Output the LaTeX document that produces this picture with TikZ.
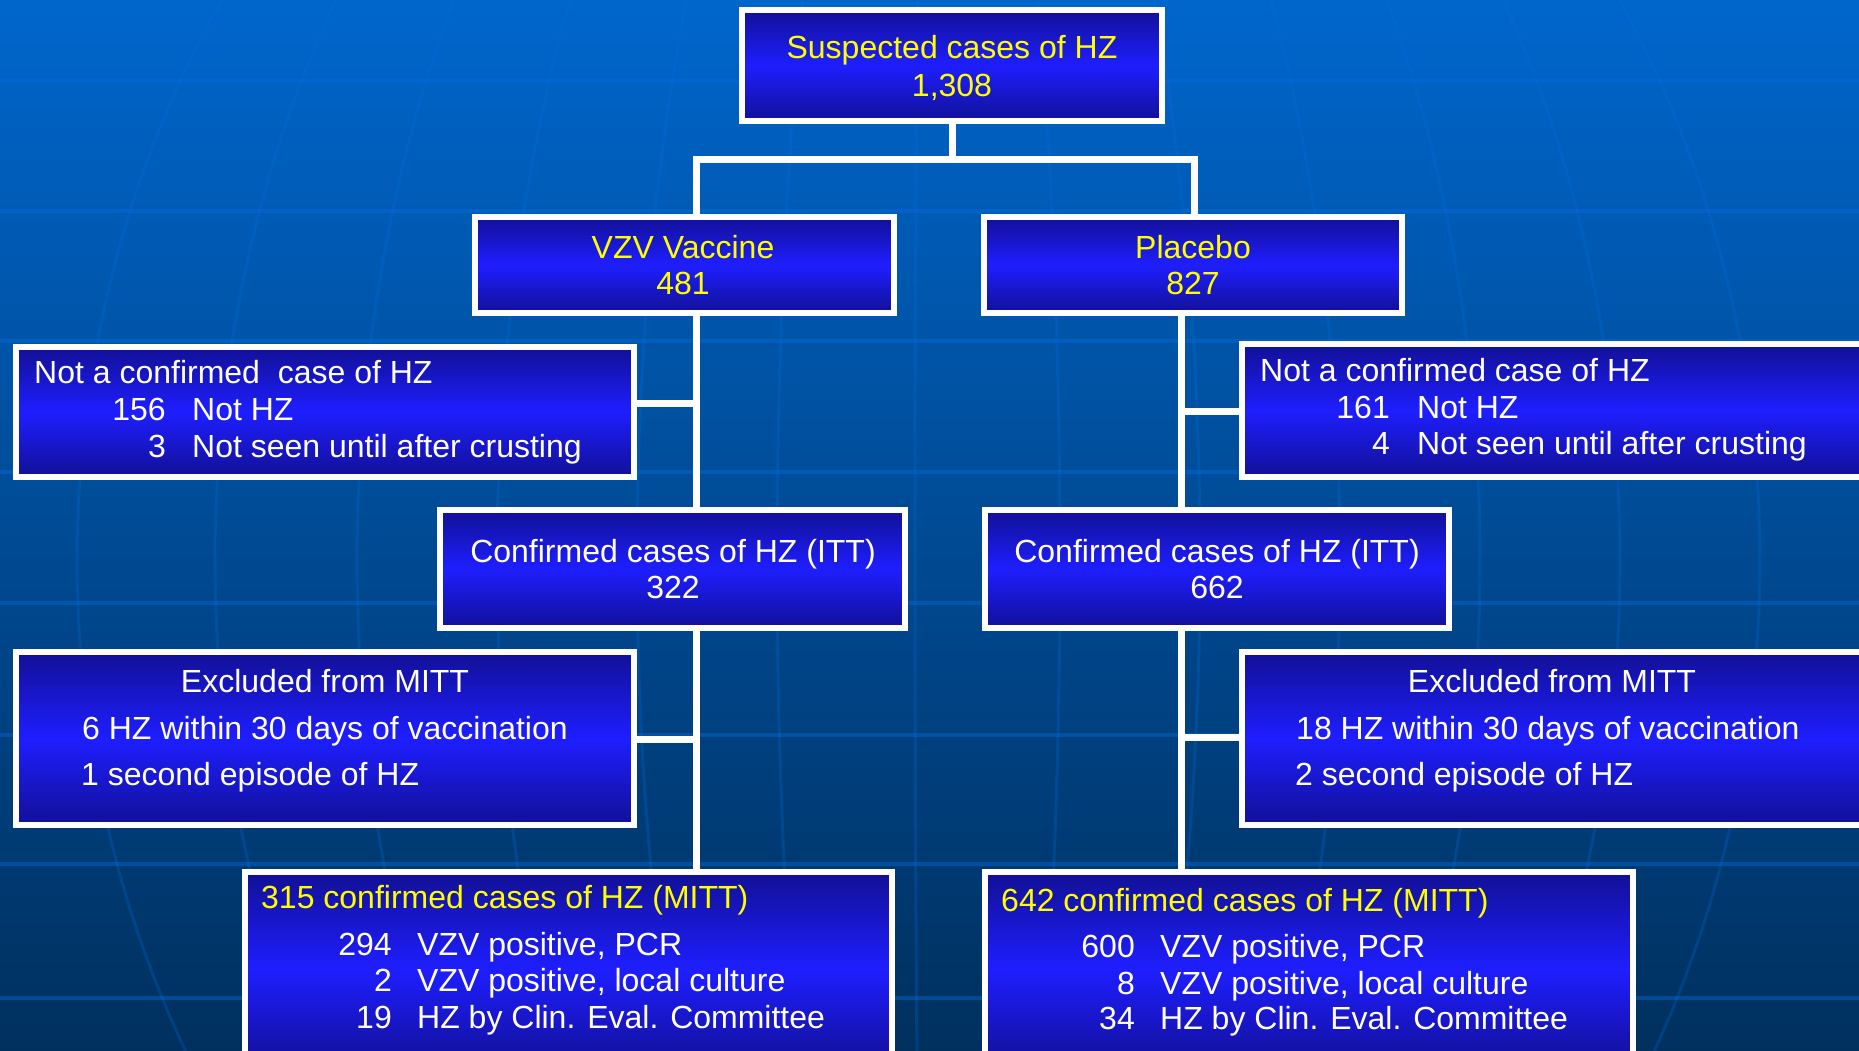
\documentclass[tikz,border=0pt]{standalone}
\usepackage{fontspec}
\setmainfont{Liberation Sans}
\definecolor{bgtop}{RGB}{0,102,204}
\definecolor{bgbot}{RGB}{0,48,94}
\definecolor{gridc}{RGB}{0,110,225}
\definecolor{boxdark}{RGB}{18,16,150}
\definecolor{boxbright}{RGB}{30,30,255}
\definecolor{titleyellow}{RGB}{255,255,0}
\pgfdeclarelayer{backdrop}
\pgfdeclarelayer{conns}
\pgfsetlayers{backdrop,conns,main}
\tikzset{
  box/.style={draw=white, line width=6pt, rectangle, inner sep=0pt,
    top color=boxdark, bottom color=boxdark, middle color=boxbright},
  conn/.style={draw=white, line width=7pt, line join=miter},
  txt/.style={font=\fontsize{32}{38}\selectfont, text=white, inner sep=0pt},
  ytxt/.style={txt, text=titleyellow},
  gridline/.style={draw=gridc, opacity=0.4, line width=4pt},
  meridian/.style={draw=gridc, opacity=0.25, line width=3pt},
}
\begin{document}
\begin{tikzpicture}[x=1pt, y=-1pt]
\useasboundingbox (0,0) rectangle (1859,1051);
\clip (0,0) rectangle (1859,1051);
% background
\begin{pgfonlayer}{backdrop}
\shade[top color=bgtop, bottom color=bgbot] (0,0) rectangle (1859,1051);
\foreach \yy in {81,211,341,472,603,735,864,998}
  \draw[gridline] (0,\yy) -- (1859,\yy);
\foreach \xe in {77,215,357,497,637,777,915,1060,1200,1340,1480,1620,1760}
  \draw[meridian] plot[domain=0:1051, samples=30, variable=\t]
    ({930+(\xe-930)*sqrt(1-((\t-560)/1006)^2)}, \t);
\end{pgfonlayer}

% box nodes
\node[box, minimum width=420pt, minimum height=111pt] (top) at (952,65.5) {};
\node[box, minimum width=419pt, minimum height=96pt] (vzv) at (684.5,265) {};
\node[box, minimum width=418pt, minimum height=96pt] (plac) at (1193,265) {};
\node[box, minimum width=618pt, minimum height=130pt] (ncl) at (325,412) {};
\node[box, minimum width=621pt, minimum height=133pt] (ncr) at (1552.5,410.5) {};
\node[box, minimum width=465pt, minimum height=118pt] (ittl) at (672.5,569) {};
\node[box, minimum width=464pt, minimum height=118pt] (ittr) at (1217,569) {};
\node[box, minimum width=618pt, minimum height=173pt] (exl) at (325,738.5) {};
\node[box, minimum width=621pt, minimum height=173pt] (exr) at (1552.5,738.5) {};
\node[box, minimum width=647pt, minimum height=195pt] (mittl) at (568.5,969.5) {};
\node[box, minimum width=648pt, minimum height=195pt] (mittr) at (1309,969.5) {};

% connectors (behind boxes)
\coordinate (ld) at (696,160);
\coordinate (rd) at (1194,160);
\coordinate (lx) at (696,0);
\coordinate (rx) at (1181,0);
\coordinate (b1) at (696,403);
\coordinate (b2) at (696,739);
\coordinate (b3) at (1181,411);
\coordinate (b4) at (1181,737);
\begin{pgfonlayer}{conns}
\draw[conn] (ld |- vzv.north) -- (ld) -- (rd) -- (rd |- plac.north);
\draw[conn] (top.south) -- (top.south |- ld);
\draw[conn] (lx |- vzv.south) -- (lx |- mittl.north);
\draw[conn] (rx |- plac.south) -- (rx |- mittr.north);
\draw[conn] (b1) -- (b1 -| ncl.east);
\draw[conn] (b2) -- (b2 -| exl.east);
\draw[conn] (b3) -- (b3 -| ncr.west);
\draw[conn] (b4) -- (b4 -| exr.west);
\end{pgfonlayer}

% text
\node[ytxt, anchor=base] (t1) at (952,58.5) {Suspected cases of HZ};
\node[ytxt, anchor=base] (t2) at (952,96.5) {1,308};
\node[ytxt, anchor=base] (t3) at (683,258.5) {VZV Vaccine};
\node[ytxt, anchor=base] (t4) at (683,294.5) {481};
\node[ytxt, anchor=base] (t5) at (1193,258.5) {Placebo};
\node[ytxt, anchor=base] (t6) at (1193,294.5) {827};

\node[txt, anchor=base west] (t7) at (34,383.5) {Not a confirmed\ \ case of HZ};
\node[txt, anchor=base east] (t8) at (166,420.5) {156};
\node[txt, anchor=base west] (t9) at (192,420.5) {Not HZ};
\node[txt, anchor=base east] (t10) at (166,457.5) {3};
\node[txt, anchor=base west] (t11) at (192,457.5) {Not seen until after crusting};

\node[txt, anchor=base west] (t12) at (1260,381.5) {Not a confirmed case of HZ};
\node[txt, anchor=base east] (t13) at (1390,418.5) {161};
\node[txt, anchor=base west] (t14) at (1417,418.5) {Not HZ};
\node[txt, anchor=base east] (t15) at (1390,454.5) {4};
\node[txt, anchor=base west] (t16) at (1417,454.5) {Not seen until after crusting};

\node[txt, anchor=base] (t17) at (673,562.5) {Confirmed cases of HZ (ITT)};
\node[txt, anchor=base] (t18) at (673,598.5) {322};
\node[txt, anchor=base] (t19) at (1217,562.5) {Confirmed cases of HZ (ITT)};
\node[txt, anchor=base] (t20) at (1217,598.5) {662};

\node[txt, anchor=base] (t21) at (325,692.5) {Excluded from MITT};
\node[txt, anchor=base west] (t22) at (82,739.5) {6 HZ within 30 days of vaccination};
\node[txt, anchor=base west] (t23) at (81,785.5) {1 second episode of HZ};
\node[txt, anchor=base] (t24) at (1552,692.5) {Excluded from MITT};
\node[txt, anchor=base west] (t25) at (1296,739.5) {18 HZ within 30 days of vaccination};
\node[txt, anchor=base west] (t26) at (1295,785.5) {2 second episode of HZ};

\node[ytxt, anchor=base west] (t27) at (261,908.5) {315 confirmed cases of HZ (MITT)};
\node[txt, anchor=base east] (t28) at (392,955.5) {294};
\node[txt, anchor=base west] (t29) at (417,955.5) {VZV positive, PCR};
\node[txt, anchor=base east] (t30) at (392,991.5) {2};
\node[txt, anchor=base west] (t31) at (417,991.5) {VZV positive, local culture};
\node[txt, anchor=base east] (t32) at (392,1028.5) {19};
\node[txt, anchor=base west] (t33) at (417,1028.5) {HZ by Clin. Eval. Committee};

\node[ytxt, anchor=base west] (t34) at (1001,911.5) {642 confirmed cases of HZ (MITT)};
\node[txt, anchor=base east] (t35) at (1135,957.5) {600};
\node[txt, anchor=base west] (t36) at (1160,957.5) {VZV positive, PCR};
\node[txt, anchor=base east] (t37) at (1135,994.5) {8};
\node[txt, anchor=base west] (t38) at (1160,994.5) {VZV positive, local culture};
\node[txt, anchor=base east] (t39) at (1135,1029.5) {34};
\node[txt, anchor=base west] (t40) at (1160,1029.5) {HZ by Clin. Eval. Committee};
\end{tikzpicture}
\end{document}
